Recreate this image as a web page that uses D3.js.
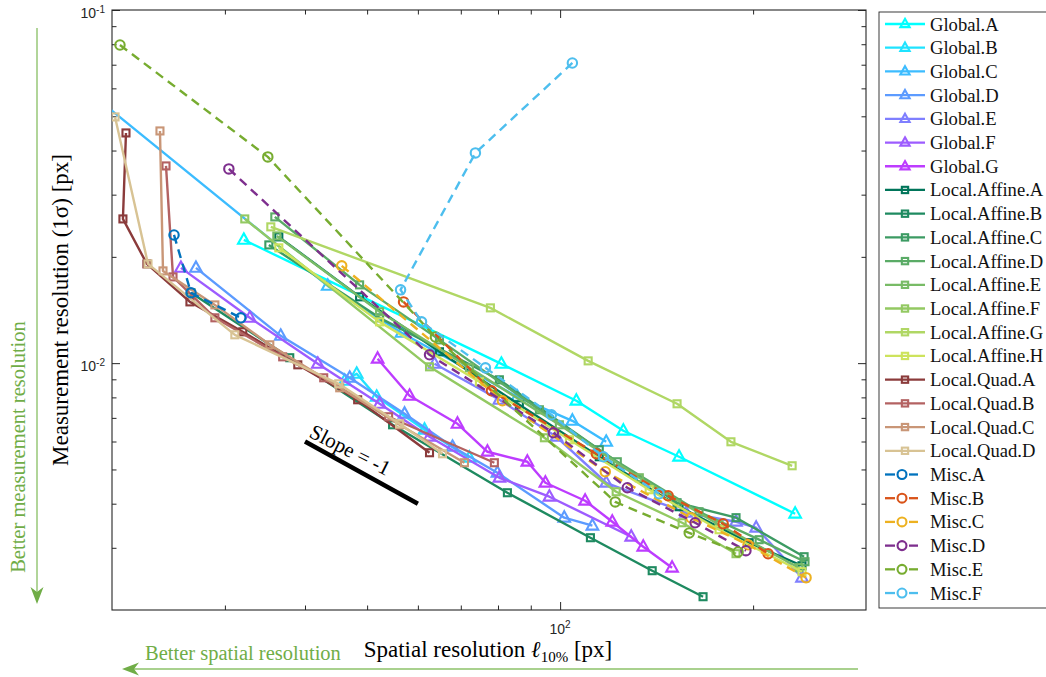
<!DOCTYPE html>
<html><head><meta charset="utf-8">
<script src="https://cdn.jsdelivr.net/npm/d3@7"></script>
<style>body{margin:0;background:#fff}svg{display:block}</style>
</head><body><svg id="c" width="1046" height="677"></svg>
<script>
// ---------------- DATA ----------------
const seriesNames = ["Global.A","Global.B","Global.C","Global.D","Global.E","Global.F","Global.G",
  "Local.Affine.A","Local.Affine.B","Local.Affine.C","Local.Affine.D","Local.Affine.E","Local.Affine.F","Local.Affine.G","Local.Affine.H",
  "Local.Quad.A","Local.Quad.B","Local.Quad.C","Local.Quad.D",
  "Misc.A","Misc.B","Misc.C","Misc.D","Misc.E","Misc.F"];

const globalA = [[32.11,0.02234],[80.98,0.009957],[106.0,0.007825],[125.5,0.006435],[153.3,0.005432],[232.6,0.003747]];
const globalB = [[46.13,0.008914],[48.16,0.009329],[51.74,0.008031],[61.45,0.006477],[72.20,0.005397]];
const globalC = [[18.0,0.06054],[43.40,0.01655],[56.58,0.01219],[85.77,0.008031],[104.5,0.006868],[118.0,0.005989]];
const globalD = [[27.04,0.01861],[36.66,0.01195],[46.96,0.009090],[57.20,0.007189],[67.94,0.005797],[79.83,0.004894],[101.5,0.003651],[112.3,0.003465]];
const globalE = [[63.69,0.009957],[80.40,0.007876],[98.67,0.006188],[118.0,0.004585],[157.2,0.003771],[188.1,0.003556],[202.2,0.003420],[238.4,0.002469]];
const globalF = [[25.62,0.01861],[32.81,0.01344],[41.88,0.009957],[52.29,0.007673],[62.56,0.006188],[80.40,0.004737],[96.22,0.004186],[129.1,0.003225]];
const globalG = [[51.92,0.01029],[58.23,0.008083],[69.17,0.006735],[77.03,0.005612],[88.90,0.005258],[94.85,0.004585],[109.4,0.004078],[120.6,0.003556],[134.8,0.003022],[149.5,0.002635]];

const affineA = [[36.41,0.02278],[48.67,0.01541],[64.84,0.01077],[86.38,0.007623],[115.1,0.005432],[153.3,0.003922],[197.2,0.003102],[238.4,0.002669]];
const affineB = [[26.56,0.01582],[37.87,0.01036],[54.79,0.006691],[82.75,0.004296],[111.5,0.003204],[139.2,0.002584],[167.1,0.002181]];
const affineC = [[35.13,0.02162],[52.29,0.01344],[80.40,0.008972],[115.1,0.005686],[152.2,0.004025],[188.1,0.003651],[240.2,0.002831]];
const affineD = [[35.89,0.02595],[48.67,0.01666],[64.84,0.01164],[92.83,0.007379],[122.8,0.005258],[164.7,0.003796],[204.4,0.003163],[241.0,0.002740]];
const affineE = [[36.15,0.02292],[52.29,0.01398],[72.20,0.009701],[99.73,0.006691],[132.9,0.004737],[177.0,0.003487],[235.9,0.002635]];
const affineF = [[32.22,0.02561],[62.56,0.009764],[94.51,0.006148],[122.3,0.004324],[155.0,0.003533],[188.1,0.002887]];
const affineG = [[35.38,0.02432],[77.85,0.01434],[110.6,0.01015],[152.2,0.007673],[184.7,0.005989],[230.1,0.005122]];
const affineH = [[36.41,0.02121],[52.29,0.01309],[74.84,0.008855],[103.4,0.006068],[137.7,0.004381],[177.0,0.003376],[238.4,0.002567]];

const quadA = [[21.03,0.04486],[20.80,0.02561],[22.67,0.01910],[26.46,0.01491],[31.99,0.01227],[38.98,0.009892],[48.33,0.007876],[62.56,0.005576]];
const quadB = [[24.28,0.03618],[24.90,0.01755],[28.94,0.01344],[36.92,0.01042],[42.78,0.009090],[54.01,0.007050],[78.97,0.005224]];
const quadC = [[23.76,0.04545],[24.02,0.01825],[28.94,0.01462],[35.25,0.01127],[45.31,0.008516],[56.18,0.006691],[70.92,0.005224]];
const quadD = [[20.22,0.04980],[22.76,0.01910],[31.09,0.01203],[45.15,0.008741],[56.18,0.006735],[65.54,0.005539]];

const miscA = [[24.99,0.02307],[26.56,0.01582],[31.76,0.01344]];
const miscB = [[56.99,0.01491],[78.13,0.008351],[113.9,0.005539],[147.4,0.004213],[179.6,0.003510],[211.1,0.002887]];
const miscC = [[45.64,0.01886],[81.27,0.007825],[117.6,0.004926],[160.0,0.003651],[196.4,0.003061],[241.9,0.002469]];
const miscD = [[30.43,0.03549],[62.56,0.01056],[97.61,0.006351],[127.3,0.004438],[162.4,0.003533],[194.9,0.002944]];
const miscE = [[20.58,0.0796],[35.0,0.03837],[63.9,0.01186],[121.9,0.004046],[159.0,0.003305],[189.5,0.00292]];
const miscF = [[104.5,0.07079],[73.77,0.03938],[56.38,0.01613],[60.79,0.01309],[76.47,0.009701],[96.91,0.007142],[116.8,0.005432],[142.7,0.004268]];

const seriesData = [globalA,globalB,globalC,globalD,globalE,globalF,globalG,
  affineA,affineB,affineC,affineD,affineE,affineF,affineG,affineH,
  quadA,quadB,quadC,quadD,miscA,miscB,miscC,miscD,miscE,miscF];

const xDomain = [20, 300];
const yDomain = [0.002, 0.1];
const xMinorTicks = [30,40,50,60,70,80,90,200];
const xMajorTicks = [100];
const yMinorTicks = [0.003,0.004,0.005,0.006,0.007,0.008,0.009,0.02,0.03,0.04,0.05,0.06,0.07,0.08,0.09];
const yMajorTicks = [0.01, 0.1];
const xTickLabels = [{v:100, base:"10", exp:"2"}];
const yTickLabels = [{v:0.1, base:"10", exp:"-1"},{v:0.01, base:"10", exp:"-2"}];
const slopeX = [40, 60];
const slopeY = [0.006, 0.004];

// ---------------- STYLE ----------------
const seriesColors = ["#00ffff","#1fe3ff","#3cbcff","#5c9bff","#7f7fff","#9d5cff","#bd3cff",
  "#00755a","#1e8a60","#3c9b63","#5aab66","#78bb66","#93c962","#b0d764","#cde35c",
  "#8b3b3b","#b36262","#c99677","#d8c394",
  "#0072BD","#D95319","#EDB120","#7E2F8E","#77AC30","#4DBEEE"];
function kindOf(name){ return name.startsWith("Global") ? "tri" : name.startsWith("Local") ? "sq" : "circ"; }

const W = 1046, H = 677;
const PL = 112, PR = 866, PT = 10, PB = 610;
const axisColor = "#262626";
const green = "#70AD47", greenLight = "#a9d18e";

const svg = d3.select("#c");
svg.append("rect").attr("width", W).attr("height", H).attr("fill", "#fff");

const x = d3.scaleLog().domain(xDomain).range([PL, PR]);
const y = d3.scaleLog().domain(yDomain).range([PB, PT]);

svg.append("defs").append("clipPath").attr("id","clip")
  .append("rect").attr("x",PL).attr("y",PT).attr("width",PR-PL).attr("height",PB-PT);

// axes ticks (inward)
function ticks(g, axis){ g.attr("color", axisColor).call(axis); g.select(".domain").remove(); g.selectAll("line").attr("stroke-width",1); }
ticks(svg.append("g").attr("transform",`translate(0,${PB})`), d3.axisBottom(x).tickValues(xMinorTicks).tickSize(-4.5).tickFormat(""));
ticks(svg.append("g").attr("transform",`translate(0,${PB})`), d3.axisBottom(x).tickValues(xMajorTicks).tickSize(-8).tickFormat(""));
ticks(svg.append("g").attr("transform",`translate(0,${PT})`), d3.axisTop(x).tickValues(xMinorTicks).tickSize(-4.5).tickFormat(""));
ticks(svg.append("g").attr("transform",`translate(0,${PT})`), d3.axisTop(x).tickValues(xMajorTicks).tickSize(-8).tickFormat(""));
ticks(svg.append("g").attr("transform",`translate(${PL},0)`), d3.axisLeft(y).tickValues(yMinorTicks).tickSize(-4.5).tickFormat(""));
ticks(svg.append("g").attr("transform",`translate(${PL},0)`), d3.axisLeft(y).tickValues(yMajorTicks).tickSize(-8).tickFormat(""));
ticks(svg.append("g").attr("transform",`translate(${PR},0)`), d3.axisRight(y).tickValues(yMinorTicks).tickSize(-4.5).tickFormat(""));
ticks(svg.append("g").attr("transform",`translate(${PR},0)`), d3.axisRight(y).tickValues(yMajorTicks).tickSize(-8).tickFormat(""));

svg.append("rect").attr("x",PL).attr("y",PT).attr("width",PR-PL).attr("height",PB-PT)
  .attr("fill","none").attr("stroke",axisColor).attr("stroke-width",1.1);

// tick labels
const tickFont = "'Liberation Sans', Arial, sans-serif";
yTickLabels.forEach(t => {
  const tx = svg.append("text").attr("x", PL-7).attr("y", y(t.v)+7.5)
    .attr("text-anchor","end").attr("font-family",tickFont).attr("font-size",14).attr("fill",axisColor);
  tx.append("tspan").text(t.base);
  tx.append("tspan").attr("dy",-5).attr("font-size",10).text(t.exp);
});
xTickLabels.forEach(t => {
  const tx = svg.append("text").attr("x", x(t.v)).attr("y", PB+24)
    .attr("text-anchor","middle").attr("font-family",tickFont).attr("font-size",14).attr("fill",axisColor);
  tx.append("tspan").text(t.base);
  tx.append("tspan").attr("dy",-6).attr("font-size",10).text(t.exp);
});

// markers
function drawMarker(g, kind, cx, cy, color, s){
  s = s || 1;
  if (kind === "tri") {
    g.append("path").attr("d", `M${cx},${cy-6.5*s} L${cx+5.8*s},${cy+3.9*s} L${cx-5.8*s},${cy+3.9*s} Z`)
      .attr("fill","none").attr("stroke",color).attr("stroke-width",2.1).attr("stroke-linejoin","miter");
  } else if (kind === "sq") {
    g.append("rect").attr("x",cx-3.5*s).attr("y",cy-3.5*s).attr("width",7*s).attr("height",7*s)
      .attr("fill","none").attr("stroke",color).attr("stroke-width",2.1);
  } else {
    g.append("circle").attr("cx",cx).attr("cy",cy).attr("r",4.7*s)
      .attr("fill","none").attr("stroke",color).attr("stroke-width",2.1);
  }
}

// data
const line = d3.line().x(d => x(d[0])).y(d => y(d[1]));
const dataG = svg.append("g");
seriesData.forEach((pts, i) => {
  const name = seriesNames[i], kind = kindOf(name), col = seriesColors[i];
  const g = dataG.append("g");
  g.append("path").attr("d", line(pts)).attr("clip-path","url(#clip)")
    .attr("fill","none").attr("stroke",col).attr("stroke-width",2.4)
    .attr("stroke-linejoin","round")
    .attr("stroke-dasharray", kind === "circ" ? "9,6" : null);
  const mg = g.append("g").attr("clip-path","url(#clip)");
  pts.forEach(p => drawMarker(mg, kind, x(p[0]), y(p[1]), col));
});

// slope annotation
svg.append("line").attr("x1",x(slopeX[0])).attr("y1",y(slopeY[0])).attr("x2",x(slopeX[1])).attr("y2",y(slopeY[1]))
  .attr("stroke","#000").attr("stroke-width",4.5);
const ang = Math.atan2(y(slopeY[1])-y(slopeY[0]), x(slopeX[1])-x(slopeX[0])) * 180/Math.PI - 2;
const sx = x(slopeX[0]) + 3, sy = y(slopeY[0]) - 5;
svg.append("text").attr("transform",`translate(${sx},${sy}) rotate(${ang})`)
  .attr("font-family","'Liberation Serif', serif").attr("font-size",21).attr("fill","#000")
  .text("Slope = -1");

// axis labels
const serif = "'Liberation Serif', 'DejaVu Serif', serif";
const xl = svg.append("text").attr("x",488).attr("y",657).attr("text-anchor","middle")
  .attr("font-family",serif).attr("font-size",23).attr("fill","#000");
xl.append("tspan").text("Spatial resolution ");
xl.append("tspan").attr("font-style","italic").text("\u2113");
xl.append("tspan").attr("font-size",15).attr("dy",5).text("10%");
xl.append("tspan").attr("dy",-5).text(" [px]");

svg.append("text").attr("transform","translate(68,310) rotate(-90)").attr("text-anchor","middle")
  .attr("font-family",serif).attr("font-size",23).attr("fill","#000")
  .text("Measurement resolution (1\u03C3) [px]");

// "better" annotations
svg.append("text").attr("x",145).attr("y",660).attr("font-family",serif).attr("font-size",20.5)
  .attr("fill",green).text("Better spatial resolution");
svg.append("text").attr("transform","translate(25,447) rotate(-90)").attr("text-anchor","middle")
  .attr("font-family",serif).attr("font-size",20.5).attr("fill",green).text("Better measurement resolution");

svg.append("line").attr("x1",858).attr("y1",669).attr("x2",130).attr("y2",669)
  .attr("stroke",greenLight).attr("stroke-width",1.8);
svg.append("path").attr("d","M122,669 L139,662.5 L134,669 L139,675.5 Z").attr("fill",green);
svg.append("line").attr("x1",37).attr("y1",28).attr("x2",37).attr("y2",596)
  .attr("stroke",greenLight).attr("stroke-width",1.8);
svg.append("path").attr("d","M37,604 L30.5,587 L37,592 L43.5,587 Z").attr("fill",green);

// legend
const LX = 879, LY = 12, LH = 596;
svg.append("rect").attr("x",LX).attr("y",LY).attr("width",250).attr("height",LH)
  .attr("fill","#fff").attr("stroke",axisColor).attr("stroke-width",0.9);
const rowH = 23.71;
seriesNames.forEach((name, i) => {
  const cy = 24 + i*rowH, kind = kindOf(name), col = seriesColors[i];
  const g = svg.append("g");
  if (kind === "circ") {
    g.append("line").attr("x1",885).attr("x2",895).attr("y1",cy).attr("y2",cy).attr("stroke",col).attr("stroke-width",2.3);
    g.append("line").attr("x1",909).attr("x2",918).attr("y1",cy).attr("y2",cy).attr("stroke",col).attr("stroke-width",2.3);
    drawMarker(g, kind, 902, cy, col, 0.95);
  } else {
    g.append("line").attr("x1",885).attr("x2",925).attr("y1",cy).attr("y2",cy).attr("stroke",col).attr("stroke-width",2.3);
    drawMarker(g, kind, 905, cy, col, kind === "tri" ? 0.8 : 0.9);
  }
  g.append("text").attr("x",930).attr("y",cy+6.5).attr("font-family",serif).attr("font-size",18.6)
    .attr("fill","#111").text(name);
});
</script>
</body></html>
